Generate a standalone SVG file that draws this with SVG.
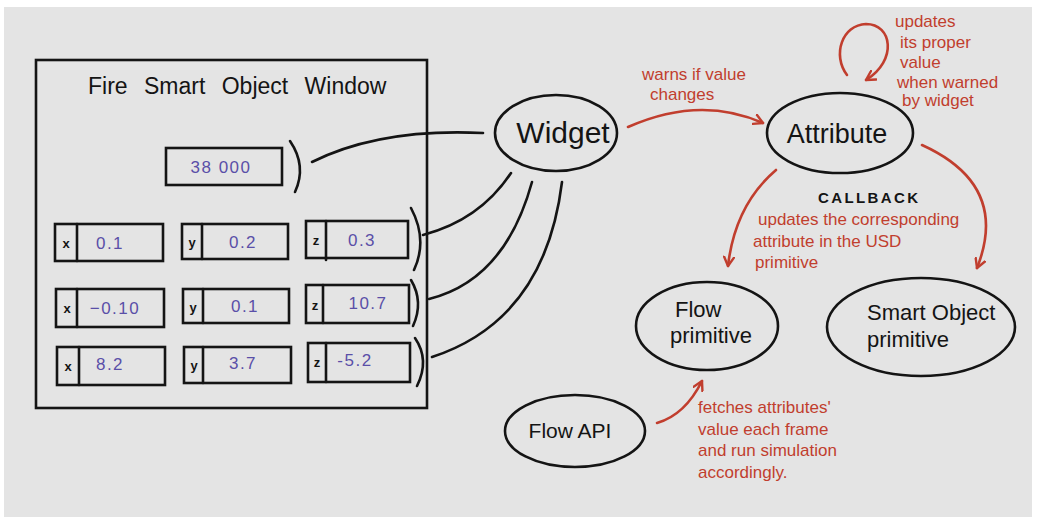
<svg xmlns="http://www.w3.org/2000/svg" width="1039" height="524" viewBox="0 0 1039 524">
<defs>
<style>
.ink{fill:none;stroke:#141414;stroke-width:2.6;stroke-linecap:round;stroke-linejoin:round}
.box{fill:none;stroke:#141414;stroke-width:2.6}
.red{fill:none;stroke:#c13e2e;stroke-width:2.6;stroke-linecap:round}
.t{font-family:"Liberation Sans",Arial,sans-serif;fill:#141414}
.rt{font-family:"Liberation Sans",Arial,sans-serif;fill:#c13e2e;font-size:17px}
.val{font-family:"Liberation Sans",Arial,sans-serif;fill:#5a4fa8;font-size:17px;letter-spacing:1.5px;text-anchor:middle}
.lab{font-family:"Liberation Sans",Arial,sans-serif;fill:#141414;font-size:13px;font-weight:bold;text-anchor:middle}
</style>
<marker id="ah" viewBox="0 0 12 12" refX="10" refY="6" markerWidth="12" markerHeight="12" markerUnits="userSpaceOnUse" orient="auto">
<path d="M1,1 L10,6 L1,11" fill="none" stroke="#c13e2e" stroke-width="2.4" stroke-linecap="round" stroke-linejoin="round"/>
</marker>
</defs>
<rect x="0" y="0" width="1039" height="524" fill="#ffffff"/>
<rect x="4" y="7" width="1028" height="510" fill="#e4e4e4"/>

<g id="window">
<rect class="box" x="36" y="60" width="391" height="348"/>
<text class="t" x="88" y="94" font-size="23" word-spacing="10">Fire Smart Object Window</text>
</g>

<g id="field-temperature">
<rect class="box" x="166" y="148" width="116" height="37"/>
<text class="val" x="221" y="173" font-size="18">38 000</text>
<path class="ink" d="M290,141 Q307,166 295,192"/>
</g>

<g id="row1">
<rect class="box" x="55" y="224" width="108" height="37"/><line class="ink" x1="77" y1="224" x2="77" y2="261"/>
<text class="lab" x="66" y="248">x</text><text class="val" x="110" y="249">0.1</text>
<rect class="box" x="182" y="224" width="106" height="35"/><line class="ink" x1="202" y1="224" x2="202" y2="259"/>
<text class="lab" x="192" y="247">y</text><text class="val" x="243" y="248">0.2</text>
<rect class="box" x="306" y="221" width="102" height="37"/><line class="ink" x1="326" y1="221" x2="326" y2="260"/>
<text class="lab" x="316" y="245">z</text><text class="val" x="362" y="246">0.3</text>
<path class="ink" d="M411,208 Q428,240 414,270"/>
</g>

<g id="row2">
<rect class="box" x="56" y="289" width="108" height="38"/><line class="ink" x1="77" y1="289" x2="77" y2="327"/>
<text class="lab" x="67" y="313">x</text><text class="val" x="115" y="314">−0.10</text>
<rect class="box" x="183" y="289" width="106" height="34"/><line class="ink" x1="203" y1="289" x2="203" y2="323"/>
<text class="lab" x="193" y="312">y</text><text class="val" x="245" y="312">0.1</text>
<rect class="box" x="306" y="285" width="103" height="38"/><line class="ink" x1="323" y1="285" x2="323" y2="323"/>
<text class="lab" x="315" y="310">z</text><text class="val" x="368" y="309">10.7</text>
<path class="ink" d="M411,280 Q424,302 413,326"/>
</g>

<g id="row3">
<rect class="box" x="57" y="347" width="108" height="38"/><line class="ink" x1="79" y1="347" x2="79" y2="385"/>
<text class="lab" x="68" y="371">x</text><text class="val" x="110" y="370">8.2</text>
<rect class="box" x="184" y="347" width="107" height="36"/><line class="ink" x1="203" y1="347" x2="203" y2="383"/>
<text class="lab" x="194" y="370">y</text><text class="val" x="243" y="369">3.7</text>
<rect class="box" x="308" y="343" width="102" height="39"/><line class="ink" x1="326" y1="343" x2="326" y2="382"/>
<text class="lab" x="317" y="367">z</text><text class="val" x="355" y="366">-5.2</text>
<path class="ink" d="M415,338 Q430,360 417,386"/>
</g>

<g id="widget">
<ellipse class="box" cx="556" cy="133" rx="61" ry="38"/>
<text class="t" x="563" y="143" font-size="30" text-anchor="middle">Widget</text>
</g>

<g id="attribute">
<ellipse class="box" cx="840" cy="133" rx="73" ry="40"/>
<text class="t" x="837" y="143" font-size="27" text-anchor="middle">Attribute</text>
</g>

<g id="flow-primitive">
<ellipse class="box" cx="707" cy="326" rx="71" ry="44"/>
<text class="t" x="675" y="317" font-size="22">Flow</text>
<text class="t" x="670" y="343" font-size="22">primitive</text>
</g>

<g id="smart-object-primitive">
<ellipse class="box" cx="921" cy="327" rx="94" ry="49"/>
<text class="t" x="867" y="320" font-size="22">Smart Object</text>
<text class="t" x="867" y="347" font-size="22">primitive</text>
</g>

<g id="flow-api">
<ellipse class="box" cx="575" cy="431" rx="70" ry="36"/>
<text class="t" x="570" y="438" font-size="21" text-anchor="middle">Flow API</text>
</g>

<g id="connectors">
<path class="ink" d="M312,162 Q380,128 483,133"/>
<path class="ink" d="M511,173 Q480,220 423,235"/>
<path class="ink" d="M532,182 Q505,280 429,299"/>
<path class="ink" d="M562,182 Q545,320 432,357"/>
<path class="red" d="M628,127 Q700,95 763,123" marker-end="url(#ah)"/>
<path class="red" d="M847,75 C832,55 842,25 866,24 C892,24 898,60 866,80" marker-end="url(#ah)"/>
<path class="red" d="M776,170 Q735,205 728,266" marker-end="url(#ah)"/>
<path class="red" d="M922,145 Q1010,185 977,268" marker-end="url(#ah)"/>
<path class="red" d="M657,423 Q685,415 702,381" marker-end="url(#ah)"/>
</g>

<g id="labels">
<text class="rt" x="642" y="80" font-size="18">warns if value</text>
<text class="rt" x="650" y="100" font-size="18">changes</text>
<text class="rt" x="895" y="27">updates</text>
<text class="rt" x="900" y="48">its proper</text>
<text class="rt" x="900" y="68">value</text>
<text class="rt" x="897" y="88">when warned</text>
<text class="rt" x="902" y="106">by widget</text>
<text class="t" x="818" y="203" font-size="15" font-weight="bold" textLength="100">CALLBACK</text>
<text class="rt" x="758" y="225">updates the corresponding</text>
<text class="rt" x="753" y="247">attribute in the USD</text>
<text class="rt" x="755" y="268">primitive</text>
<text class="rt" x="698" y="413">fetches attributes'</text>
<text class="rt" x="698" y="435">value each frame</text>
<text class="rt" x="698" y="456">and run simulation</text>
<text class="rt" x="698" y="478">accordingly.</text>
</g>
</svg>
